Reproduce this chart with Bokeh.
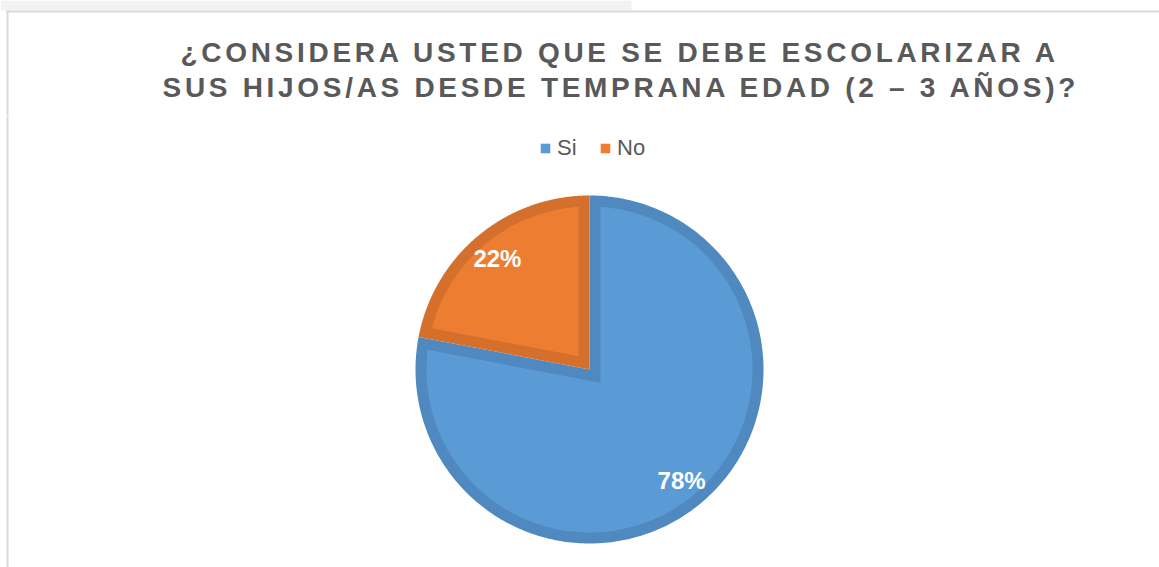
import numpy as np
from bokeh.plotting import figure
from bokeh.models import Range1d, ColumnDataSource, Legend, LegendItem, InlineStyleSheet
from bokeh.layouts import column
from bokeh.core.properties import value
from bokeh.embed import file_html
from bokeh.resources import INLINE

# ---- data ----
categories = ["Si", "No"]
values = [78, 22]
fill_colors = ["#5B9BD5", "#ED7D31"]
edge_colors = ["#4F89C0", "#D4702C"]
title_lines = ["¿CONSIDERA USTED QUE SE DEBE ESCOLARIZAR A",
               "SUS HIJOS/AS DESDE TEMPRANA EDAD (2 – 3 AÑOS)?"]

W = 1159
TH = 115
MH = 452
FONT = "Liberation Sans"
TXT = "#595959"
BORDER = "#D9D9D9"

# ---- title figure ----
tf = figure(width=W, height=TH, x_range=Range1d(0, W), y_range=Range1d(0, TH),
            output_backend="svg", toolbar_location=None, min_border=0,
            x_axis_location=None, y_axis_location=None)
tf.outline_line_color = None
tf.grid.grid_line_color = None
tf.stylesheets = [InlineStyleSheet(css=":host { letter-spacing: 3.7px; }")]
# top strip and chart border
tf.quad(left=0, right=631, bottom=TH - 10, top=TH, fill_color="#F2F2F2", line_color=None)
tf.quad(left=6, right=W, bottom=TH - 12, top=TH - 10, fill_color=BORDER, line_color=None)
tf.quad(left=6, right=8, bottom=0, top=TH - 10, fill_color=BORDER, line_color=None)
tf.text(x=[180, 162], y=[TH - 51.7, TH - 87.3], text=title_lines,
        text_font=value(FONT), text_font_style="bold", text_font_size="28px",
        text_color=TXT, text_align="left", text_baseline="alphabetic")

# ---- pie figure ----
p = figure(width=W, height=MH, x_range=Range1d(0, W), y_range=Range1d(0, MH),
           output_backend="svg", toolbar_location=None, min_border=0,
           x_axis_location=None, y_axis_location=None)
p.outline_line_color = None
p.grid.grid_line_color = None
p.quad(left=6, right=8, bottom=0, top=MH, fill_color=BORDER, line_color=None)

cx, cy, R, bw = 589.0, 198.0, 174.0, 11.0

total = float(sum(values))
fracs = np.array(values) / total
ends = np.pi / 2 - 2 * np.pi * np.cumsum(fracs)
starts = np.r_[np.pi / 2, ends[:-1]]

out_xs, out_ys, in_xs, in_ys = [], [], [], []
lab_x, lab_y = [], []
for s, e in zip(starts, ends):
    a0, a1 = e, s  # counter-clockwise from a0 to a1
    th = np.linspace(a0, a1, 300)
    out_xs.append(list(np.r_[cx, cx + R * np.cos(th)]))
    out_ys.append(list(np.r_[cy, cy + R * np.sin(th)]))
    r2 = R - bw
    d = np.arcsin(bw / r2)
    th2 = np.linspace(a0 + d, a1 - d, 300)
    n0 = [-np.sin(a0), np.cos(a0)]
    n1 = [np.sin(a1), -np.cos(a1)]
    corner = np.linalg.solve(np.array([n0, n1]), [bw, bw])
    in_xs.append(list(np.r_[cx + corner[0], cx + r2 * np.cos(th2)]))
    in_ys.append(list(np.r_[cy + corner[1], cy + r2 * np.sin(th2)]))
    mid = (a0 + a1) / 2
    lab_x.append(cx + 0.83 * R * np.cos(mid))
    lab_y.append(cy + 0.83 * R * np.sin(mid))

outer = p.patches(xs="xs", ys="ys", fill_color="c", line_color=None,
                  source=ColumnDataSource(dict(xs=out_xs, ys=out_ys, c=edge_colors)))
inner = p.patches(xs="xs", ys="ys", fill_color="c", line_color=None,
                  source=ColumnDataSource(dict(xs=in_xs, ys=in_ys, c=fill_colors)))

labels = [f"{v}%" for v in values]
p.text(x=lab_x, y=lab_y, text=labels, text_font=value(FONT), text_font_style="bold",
       text_font_size="24px", text_color="white", text_align="center",
       text_baseline="middle")

legend = Legend(items=[LegendItem(label=c, renderers=[inner], index=i)
                       for i, c in enumerate(categories)],
                orientation="horizontal", location=(539, 406),
                glyph_width=12, glyph_height=12, label_standoff=6, spacing=22,
                padding=0, margin=0, border_line_color=None, background_fill_alpha=0,
                label_text_font=FONT, label_text_font_size="22px",
                label_text_color=TXT)
p.add_layout(legend, "center")

layout = column(tf, p, spacing=0)
open("out.html", "w").write(file_html(layout, INLINE))
